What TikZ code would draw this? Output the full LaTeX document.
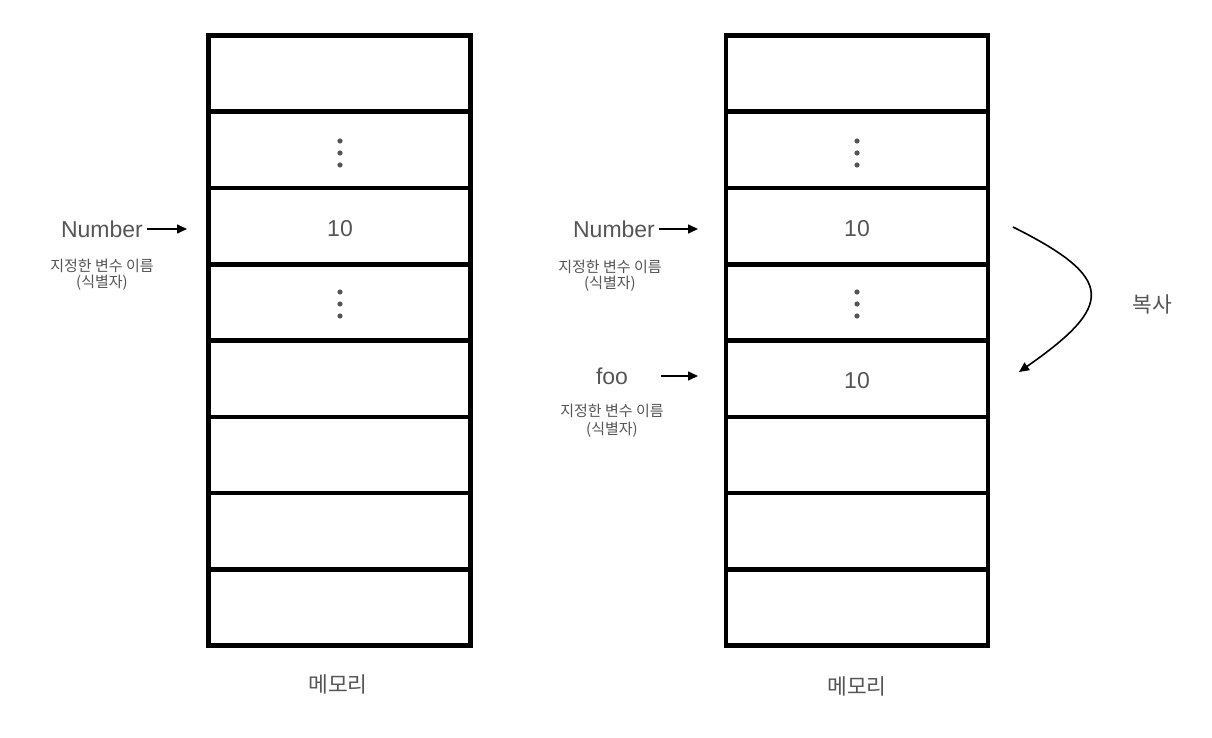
\documentclass[tikz,border=0pt]{standalone}
\usepackage{fontspec}
\setmainfont{Liberation Sans}
\newfontfamily\kr{Noto Sans CJK KR}
\usetikzlibrary{arrows.meta}
\definecolor{txt}{RGB}{85,85,85}
\begin{document}
\begin{tikzpicture}[x=1pt,y=-1pt,
  cell/.style={draw=black,line width=4.5pt,minimum width=262pt,minimum height=76.25pt,inner sep=0pt,outer sep=0pt},
  big/.style={text=txt,font=\fontsize{23}{26}\selectfont,inner sep=0pt},
  kbig/.style={text=txt,font=\kr\fontsize{21.5}{24}\selectfont,inner sep=0pt},
  small/.style={text=txt,font=\kr\fontsize{15}{16}\selectfont,align=center,inner sep=0pt},
  ptr/.style={line width=1.6pt,-{Triangle[length=10pt,width=9pt]}},
  dotc/.style={fill=txt}]
\useasboundingbox (0,0) rectangle (1212,738);
\foreach \i in {1,...,8} {
  \node[cell] (L\i) at (339.5,{35.5+76.25*(\i-0.5)}) {};
  \node[cell] (R\i) at (857,{35.5+76.25*(\i-0.5)}) {};
}
% dots
\foreach \x in {340,857} {
  \foreach \yc in {153,304} {
    \fill[dotc] (\x,\yc-12) circle (2.6pt);
    \fill[dotc] (\x,\yc) circle (2.6pt);
    \fill[dotc] (\x,\yc+12) circle (2.6pt);
  }
}
% values
\node[big] (vL) at (340,229) {10};
\node[big] (vR1) at (857,229) {10};
\node[big] (vR2) at (857,381) {10};
% left labels
\node[big] (numL) at (102,229) {Number};
\node[small] (idL) at (102,275) {지정한 변수 이름\\(식별자)};
\draw[ptr,shorten <=4pt,shorten >=21.5pt] (numL.east) -- (numL.east -| L3.west);
% right labels
\node[big] (numR) at (614,229) {Number};
\node[small] (idR) at (610,276) {지정한 변수 이름\\(식별자)};
\draw[ptr,shorten <=4pt,shorten >=28pt] (numR.east) -- (numR.east -| R3.west);
\node[big] (foo) at (612,376) {foo};
\node[small] (idF) at (612,421) {지정한 변수 이름\\[2pt](식별자)};
\draw[ptr,shorten <=33pt,shorten >=28pt] (foo.east) -- (foo.east -| R5.west);
% copy arrow
\coordinate (cs) at (1013,227);
\coordinate (ce) at (1019,372);
\draw[ptr] (cs) .. controls (1115,278) and (1115,305) .. (ce);
\node[kbig] (copy) at (1152,304) {복사};
% captions
\node[kbig] (memL) at (338,684) {메모리};
\node[kbig] (memR) at (857,686) {메모리};
\end{tikzpicture}
\end{document}
